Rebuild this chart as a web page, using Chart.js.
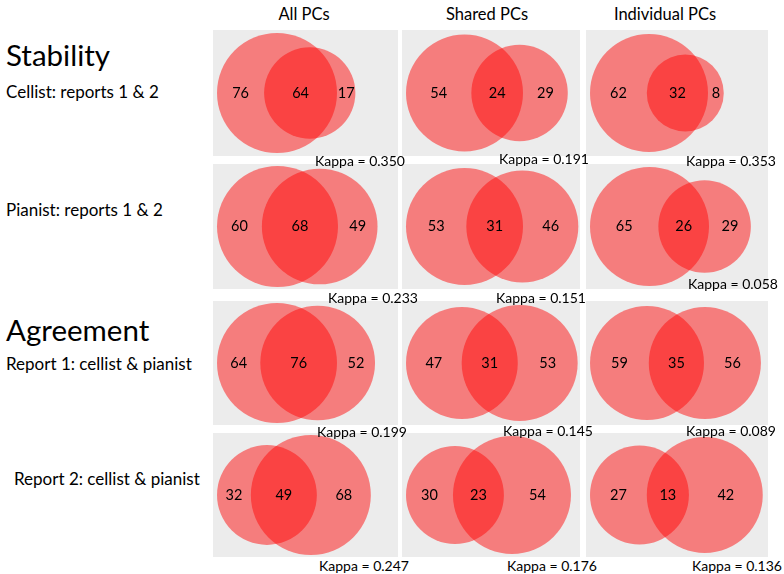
<!DOCTYPE html>
<html>
<head>
<meta charset="utf-8">
<script src="https://cdn.jsdelivr.net/npm/chart.js@4.4.1/dist/chart.umd.min.js"></script>
<style>
  body { margin: 0; background: #fff; font-family: Lato, 'Liberation Sans', sans-serif; color: #000; }
  #page { position: relative; width: 784px; height: 574px; overflow: hidden; }
  .txt { position: absolute; white-space: nowrap; line-height: 1; z-index: 2; }
  .panel { position: absolute; background: #ececec; z-index: 1; }
  .panel canvas { display: block; }
</style>
</head>
<body>
<div id="page"></div>
<script>
// data
const columns = ['All PCs', 'Shared PCs', 'Individual PCs'];
const sections = ['Stability', 'Agreement'];
const rowLabels = ['Cellist: reports 1 & 2', 'Pianist: reports 1 & 2', 'Report 1: cellist & pianist', 'Report 2: cellist & pianist'];
const leftOnly  = [[76, 54, 62], [60, 53, 65], [64, 47, 59], [32, 30, 27]];
const both      = [[64, 24, 32], [68, 31, 26], [76, 31, 35], [49, 23, 13]];
const rightOnly = [[17, 29, 8], [49, 46, 29], [52, 53, 56], [68, 54, 42]];
const kappa     = [['0.350', '0.191', '0.353'], ['0.233', '0.151', '0.058'], ['0.199', '0.145', '0.089'], ['0.247', '0.176', '0.136']];

// layout
const colX = [213, 402, 586], colW = [185, 178, 182];
const titleMid = [304, 487, 665];
const rowY = [30, 164, 301, 433], rowH = [126, 125, 124, 124];
const bigR = [[60, 58.5, 59], [60.5, 58.5, 59.5], [60, 58, 57], [60, 59, 58]];
const kappaX = [[315, 499, 686], [328, 496, 688], [317, 503, 686], [319, 507, 692]];
const kappaBase = [[166, 164, 166], [303, 303, 289], [437, 436, 436], [571, 571, 571]];
const fill = 'rgba(255, 0, 0, 0.47)';

const page = document.getElementById('page');

function addText(str, left, baseline, size) {
  const d = document.createElement('div');
  d.className = 'txt';
  d.textContent = str;
  d.style.fontSize = size + 'px';
  d.style.left = left + 'px';
  d.style.top = (baseline - 0.887 * size) + 'px';
  page.appendChild(d);
  return d;
}

// circle overlap area
function lensArea(r1, r2, d) {
  if (d >= r1 + r2) return 0;
  if (d <= Math.abs(r1 - r2)) return Math.PI * Math.min(r1, r2) ** 2;
  const a = Math.acos((d * d + r1 * r1 - r2 * r2) / (2 * d * r1));
  const b = Math.acos((d * d + r2 * r2 - r1 * r1) / (2 * d * r2));
  return r1 * r1 * a + r2 * r2 * b - 0.5 * Math.sqrt((-d + r1 + r2) * (d + r1 - r2) * (d - r1 + r2) * (d + r1 + r2));
}

function centreDistance(r1, r2, overlap) {
  let lo = Math.abs(r1 - r2), hi = r1 + r2;
  for (let i = 0; i < 60; i++) {
    const mid = (lo + hi) / 2;
    if (lensArea(r1, r2, mid) > overlap) lo = mid; else hi = mid;
  }
  return (lo + hi) / 2;
}

// number labels, placed with the chart's scales
const vennLabels = {
  id: 'vennLabels',
  afterDatasetsDraw(chart, args, opts) {
    const {ctx, scales: {x, y}} = chart;
    const [a, b] = chart.data.datasets[0].data;
    const cy = y.getPixelForValue(a.y);
    const spots = [
      [(a.x - a.ru + b.x - b.ru) / 2, opts.counts[0]],
      [(b.x - b.ru + a.x + a.ru) / 2, opts.counts[1]],
      [(a.x + a.ru + b.x + b.ru) / 2, opts.counts[2]]
    ];
    ctx.save();
    ctx.font = '14.5px Lato';
    ctx.fillStyle = '#000';
    ctx.textAlign = 'center';
    ctx.textBaseline = 'middle';
    spots.forEach(([vx, n]) => ctx.fillText(String(n), x.getPixelForValue(vx), cy));
    ctx.restore();
  }
};

// headings
columns.forEach((c, j) => {
  const d = addText(c, titleMid[j] - 80, 21, 16.5);
  d.style.width = '160px';
  d.style.textAlign = 'center';
});
addText(sections[0], 6, 66, 29.5);
addText(sections[1], 6, 341, 29.5);
addText(rowLabels[0], 6, 98, 17);
addText(rowLabels[1], 6, 216, 17);
addText(rowLabels[2], 6, 370, 17);
addText(rowLabels[3], 14, 485, 17);

for (let i = 0; i < 4; i++) {
  for (let j = 0; j < 3; j++) {
    const W = colW[j], H = rowH[i];
    const box = document.createElement('div');
    box.className = 'panel';
    box.style.left = colX[j] + 'px';
    box.style.top = rowY[i] + 'px';
    box.style.width = W + 'px';
    box.style.height = H + 'px';
    const cv = document.createElement('canvas');
    cv.width = W;
    cv.height = H;
    box.appendChild(cv);
    page.appendChild(box);

    const rA = Math.sqrt((leftOnly[i][j] + both[i][j]) / Math.PI);
    const rB = Math.sqrt((both[i][j] + rightOnly[i][j]) / Math.PI);
    const d = centreDistance(rA, rB, both[i][j]);
    const k = bigR[i][j] / Math.max(rA, rB); // px per unit
    const xA = 4 / k + rA;
    const yC = H / k / 2;

    new Chart(cv, {
      type: 'scatter',
      data: {
        datasets: [{
          data: [{x: xA, y: yC, ru: rA}, {x: xA + d, y: yC, ru: rB}],
          pointRadius: c => c.chart.scales.x.getPixelForValue(c.raw.ru) - c.chart.scales.x.getPixelForValue(0),
          pointBackgroundColor: fill,
          pointBorderWidth: 0,
          pointBorderColor: 'transparent',
          clip: false
        }]
      },
      options: {
        responsive: false,
        devicePixelRatio: 1,
        animation: false,
        events: [],
        layout: { padding: 0 },
        scales: {
          x: { type: 'linear', min: 0, max: W / k, display: false },
          y: { type: 'linear', min: 0, max: H / k, display: false }
        },
        plugins: {
          legend: { display: false },
          tooltip: { enabled: false },
          vennLabels: { counts: [leftOnly[i][j], both[i][j], rightOnly[i][j]] }
        }
      },
      plugins: [vennLabels]
    });

    addText('Kappa = ' + kappa[i][j], kappaX[i][j], kappaBase[i][j], 14);
  }
}
</script>
</body>
</html>
